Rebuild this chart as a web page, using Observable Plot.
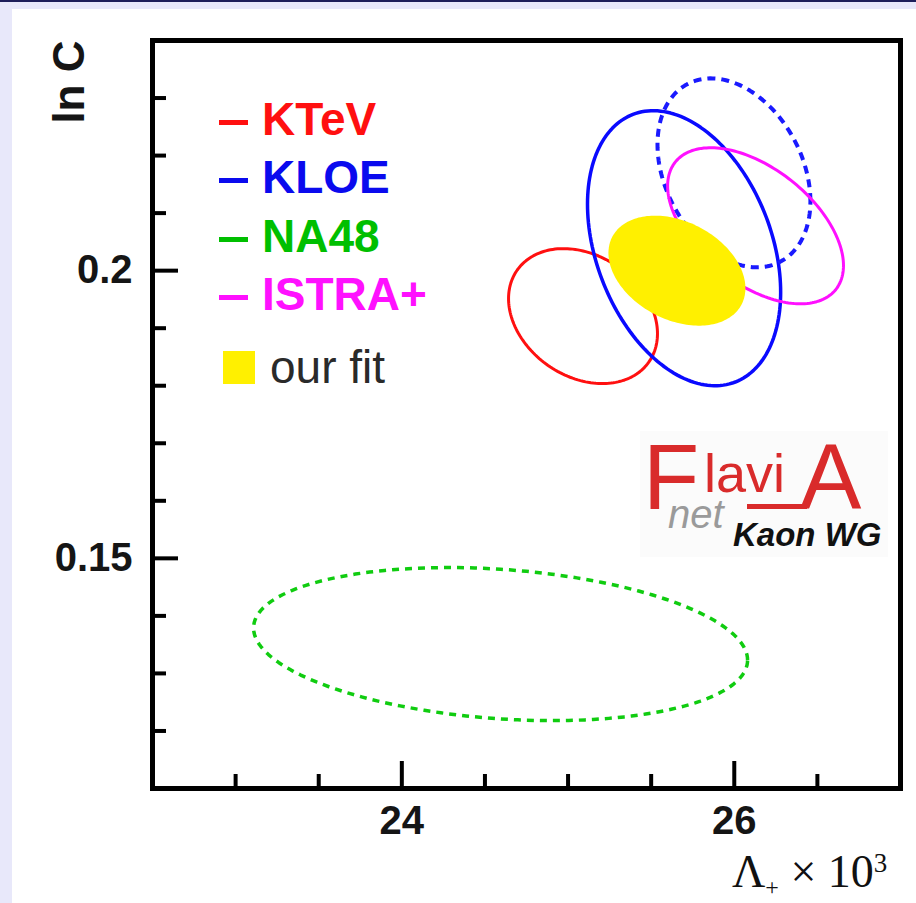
<!DOCTYPE html>
<html><head><meta charset="utf-8">
<script src="https://cdn.jsdelivr.net/npm/d3@7"></script>
<script src="https://cdn.jsdelivr.net/npm/@observablehq/plot@0.6"></script>
<style>
html,body{margin:0;padding:0;}
body{background:#e8e8fa;width:916px;height:903px;overflow:hidden;position:relative;font-family:"Liberation Sans",Arial,sans-serif;}
#bar{position:absolute;left:0;top:0;width:916px;height:2px;background:#1e1e5a;}
#panel{position:absolute;left:12px;top:9px;width:904px;height:894px;background:#fff;}
#chart{position:absolute;left:12px;top:9px;}
#legend{position:absolute;left:0;top:0;}
.lrow{position:absolute;white-space:nowrap;font-size:46px;line-height:46px;font-weight:bold;}
.ldash{position:absolute;width:29px;height:5px;}
.lsq{position:absolute;width:32px;height:33px;}
#logo{position:absolute;left:0;top:0;}
#xlabel{position:absolute;left:732px;top:852px;font-family:"Liberation Serif","Times New Roman",serif;font-size:46px;line-height:40px;color:#111;white-space:nowrap;}
#xlabel .sub{font-size:24px;line-height:16px;display:inline-block;position:relative;top:8px;}
#xlabel .sup{font-size:27px;line-height:20px;display:inline-block;position:relative;top:-15px;}
</style>
</head><body>
<div id="bar"></div>
<div id="panel"></div>
<div id="chart"></div>
<div id="legend"></div>
<svg id="logo" width="916" height="903" font-family="Liberation Sans, Arial, sans-serif">
  <rect x="640" y="431" width="248" height="126" fill="#fbfbfb"></rect>
  <text x="643" y="509" font-size="92" fill="#d92b2b">F</text>
  <text x="704" y="492" font-size="54" fill="#d92b2b">lavi</text>
  <rect x="747" y="504" width="60" height="5" fill="#d92b2b"></rect>
  <text x="800" y="509" font-size="92" fill="#d92b2b">A</text>
  <text x="668" y="528" font-size="40" font-style="italic" fill="#9a9a9a">net</text>
  <text x="733" y="546" font-size="33" font-style="italic" font-weight="bold" fill="#111">Kaon WG</text>
</svg>
<div id="xlabel">Λ<span class="sub">+</span> × 10<span class="sup">3</span></div>
<script>
// ---- data ----
const series      = ["KTeV", "KLOE", "KLOE (dashed)", "NA48", "ISTRA+", "our fit"];
const lambdaPlus  = [25.090, 25.698, 25.998, 24.594, 26.128, 25.655]; // ellipse centre, Λ+ × 10³
const lnC         = [0.1921, 0.2039, 0.2170, 0.1351, 0.2078, 0.2000]; // ellipse centre, ln C
const sigLambda   = [0.448, 0.581, 0.460, 1.486, 0.529, 0.412];
const sigLnC      = [0.01173, 0.0239, 0.01642, 0.0133, 0.01356, 0.00956];
const rho         = [-0.26, -0.32, -0.30, -0.21, -0.51, -0.32];

const legendNames = ["KTeV", "KLOE", "NA48", "ISTRA+"];
const fitName = "our fit";

const xMajor = [24, 26];
const xMinor = [23, 23.5, 24.5, 25, 25.5, 26.5];
const yMajor = [0.15, 0.2];
const yMinor = [0.12, 0.13, 0.14, 0.16, 0.17, 0.18, 0.19, 0.21, 0.22, 0.23];

// ---- styles ----
const styles = {
  "KTeV":          {stroke: "#ff1010", width: 3},
  "KLOE":          {stroke: "#0a0aff", width: 3.5},
  "KLOE (dashed)": {stroke: "#1a1aff", width: 4, dash: "8,6"},
  "NA48":          {stroke: "#10cc10", width: 3.5, dash: "7,6"},
  "ISTRA+":        {stroke: "#ff10ff", width: 3},
  "our fit":       {fill: "#fff000"}
};
const legendColors = {"KTeV": "#ff1010", "KLOE": "#0a0aee", "NA48": "#00bf00", "ISTRA+": "#ff10ff"};

// 1-sigma contour from centre, errors and correlation
function contour(i) {
  const pts = [];
  const n = 180;
  for (let k = 0; k < n; k++) {
    const t = 2 * Math.PI * k / n;
    pts.push({
      name: series[i],
      x: lambdaPlus[i] + sigLambda[i] * Math.cos(t),
      y: lnC[i] + sigLnC[i] * (rho[i] * Math.cos(t) + Math.sqrt(1 - rho[i] * rho[i]) * Math.sin(t))
    });
  }
  return pts;
}

const W = 904, H = 894, ML = 140, MT = 31, MR = 16, MB = 115;
const FW = W - ML - MR, FH = H - MT - MB;

const marks = [];
series.forEach((name, i) => {
  const st = styles[name];
  if (st.fill) {
    marks.push(Plot.line(contour(i), {x: "x", y: "y", curve: "linear-closed", fill: st.fill, stroke: "none"}));
  } else {
    marks.push(Plot.line(contour(i), {x: "x", y: "y", curve: "linear-closed", stroke: st.stroke,
      strokeWidth: st.width, strokeDasharray: st.dash, strokeLinecap: "butt"}));
  }
});

const chart = Plot.plot({
  width: W, height: H,
  marginLeft: ML, marginTop: MT, marginRight: MR, marginBottom: MB,
  style: {background: "transparent", fontFamily: "Liberation Sans, Arial, sans-serif", color: "#151515", overflow: "visible"},
  x: {domain: [22.5, 27]},
  y: {domain: [0.11, 0.24]},
  marks: [
    ...marks,
    Plot.ruleX(xMajor, {x: d => d, insetTop: FH - 27, strokeWidth: 4, stroke: "#000"}),
    Plot.ruleX(xMinor, {x: d => d, insetTop: FH - 14, strokeWidth: 4, stroke: "#000"}),
    Plot.ruleY(yMajor, {y: d => d, insetRight: FW - 26, strokeWidth: 4, stroke: "#000"}),
    Plot.ruleY(yMinor, {y: d => d, insetRight: FW - 14, strokeWidth: 4, stroke: "#000"}),
    Plot.axisX(xMajor, {tickSize: 0, tickPadding: 17, fontSize: 40, fontWeight: "bold", label: null, tickFormat: d => String(d)}),
    Plot.axisY(yMajor, {tickSize: 0, tickPadding: 20, fontSize: 40, fontWeight: "bold", label: null, tickFormat: d => String(d)}),
    Plot.text(["ln C"], {frameAnchor: "top-left", text: d => d, rotate: -90, textAnchor: "end", lineAnchor: "bottom",
      dx: -69, fontSize: 44, fontWeight: "bold"}),
    Plot.frame({stroke: "#000", strokeWidth: 5})
  ]
});
document.getElementById("chart").appendChild(chart);

// ---- legend (HTML overlay) ----
const leg = document.getElementById("legend");
const base0 = 135, step = 58.3;
legendNames.forEach((name, i) => {
  const b = base0 + i * step;
  const dash = document.createElement("div");
  dash.className = "ldash";
  dash.style.left = "219px"; dash.style.top = (b - 15) + "px"; dash.style.background = legendColors[name];
  leg.appendChild(dash);
  const t = document.createElement("div");
  t.className = "lrow";
  t.style.left = "262px"; t.style.top = (b - 39) + "px"; t.style.color = legendColors[name];
  t.textContent = name;
  leg.appendChild(t);
});
{
  const b = 383;
  const sq = document.createElement("div");
  sq.className = "lsq";
  sq.style.left = "223px"; sq.style.top = "351px"; sq.style.background = styles[fitName].fill;
  leg.appendChild(sq);
  const t = document.createElement("div");
  t.className = "lrow";
  t.style.left = "270px"; t.style.top = (b - 39) + "px"; t.style.color = "#2a2a2a"; t.style.fontWeight = "normal";
  t.textContent = fitName;
  leg.appendChild(t);
}
</script>
</body></html>
